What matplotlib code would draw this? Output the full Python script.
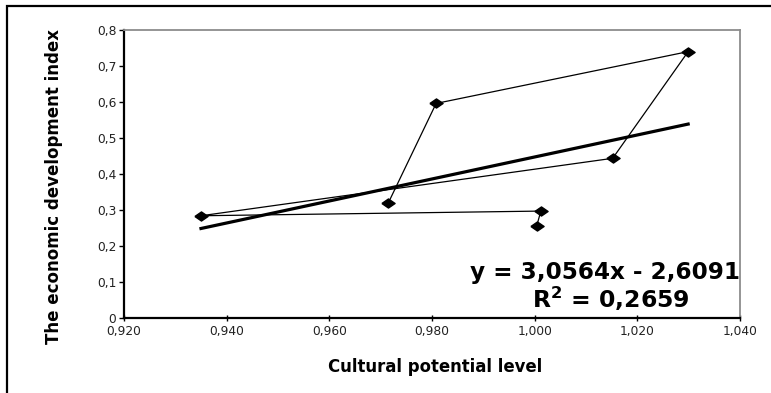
import matplotlib
matplotlib.use('Agg')
import matplotlib.pyplot as plt
from matplotlib.ticker import FuncFormatter, MultipleLocator
from matplotlib.patches import Rectangle
import numpy as np

# Data (points in drawing order)
cultural_level = [0.9715, 0.9808, 1.0299, 1.0152, 0.9350, 1.0012, 1.0004]
econ_index = [0.320, 0.596, 0.740, 0.4436, 0.284, 0.297, 0.2556]

# Linear trend shown on the chart
slope = 3.0564
intercept = -2.6091
r_squared = 0.2659

W, H = 771, 393
fig = plt.figure(figsize=(W / 100, H / 100), dpi=100)
ax = fig.add_axes([124 / W, 1 - 318 / H, (740 - 124) / W, (318 - 30) / H])

# outer frame (cut off at right and bottom like the original)
fig.add_artist(Rectangle((7 / W, -0.2), 1.2, 1 - 6 / H + 0.2, transform=fig.transFigure,
                         fill=False, edgecolor='black', linewidth=1.6, clip_on=False))

diamond = [(-1.45, 0), (0, 1), (1.45, 0), (0, -1), (-1.45, 0)]
ax.plot(cultural_level, econ_index, color='black', linewidth=0.9,
        marker=diamond, markersize=9.5, markerfacecolor='black', markeredgecolor='black')

xt = np.array([min(cultural_level), max(cultural_level)])
ax.plot(xt, slope * xt + intercept, color='black', linewidth=2.3)

ax.set_xlim(0.92, 1.04)
ax.set_ylim(0, 0.8)
ax.xaxis.set_major_locator(MultipleLocator(0.02))
ax.yaxis.set_major_locator(MultipleLocator(0.1))
ax.xaxis.set_major_formatter(FuncFormatter(lambda v, p: f'{v:.3f}'.replace('.', ',')))
ax.yaxis.set_major_formatter(FuncFormatter(lambda v, p: '0' if abs(v) < 1e-9 else f'{v:.1f}'.replace('.', ',')))

for s in ['left', 'bottom']:
    ax.spines[s].set_linewidth(1.6)
    ax.spines[s].set_color('black')
for s in ['top', 'right']:
    ax.spines[s].set_linewidth(1.3)
    ax.spines[s].set_color('#8c8c8c')

ax.tick_params(axis='y', direction='out', length=3.5, width=1, pad=2,
               labelsize=8.8, labelcolor='#222222')
ax.tick_params(axis='x', direction='inout', length=4, width=1, pad=3,
               labelsize=8.8, labelcolor='#222222')
for lab in ax.get_xticklabels() + ax.get_yticklabels():
    lab.set_family('DejaVu Sans')

fig.text(435 / W, 1 - 367 / H, 'Cultural potential level', ha='center', va='center',
         fontsize=11.9, fontweight='bold', family='DejaVu Sans')
fig.text(54 / W, 1 - 187 / H, 'The economic development index', ha='center', va='center',
         rotation=90, fontsize=12, fontweight='bold', family='DejaVu Sans')

eq = f'y = {slope:.4f}x - {abs(intercept):.4f}'.replace('.', ',')
r2 = f'R$^{{\\mathbf{{2}}}}$ = {r_squared:.4f}'.replace('.', ',')
fig.text(605 / W, 1 - 273 / H, eq, ha='center', va='center',
         fontsize=16.7, fontweight='bold', family='DejaVu Sans')
fig.text(611 / W, 1 - 299 / H, r2, ha='center', va='center',
         fontsize=16.9, fontweight='bold', family='DejaVu Sans')

fig.savefig('out.png', dpi=100)
